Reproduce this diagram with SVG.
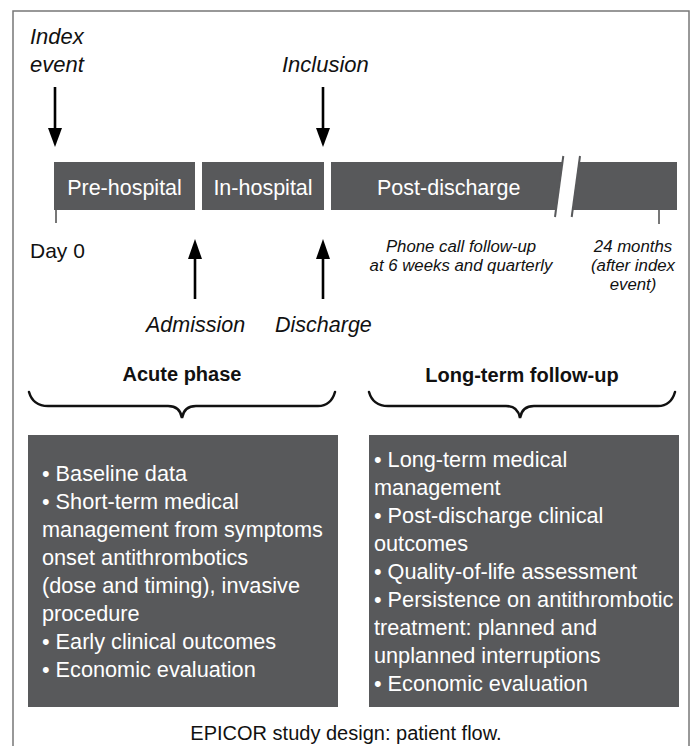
<svg xmlns="http://www.w3.org/2000/svg" width="694" height="746" viewBox="0 0 694 746">
<style>
text{font-family:"Liberation Sans",Arial,sans-serif;}
.it{font-style:italic;fill:#111;}
.bar{fill:#58595b;}
.bt{fill:#fff;font-size:21.5px;}
.box{fill:#58595b;}
.bx{fill:#fff;font-size:21.7px;}
.hd{font-weight:bold;font-size:20px;fill:#111;text-anchor:middle;}
.ar{stroke:#000;stroke-width:2.6;fill:none;}
.brace{stroke:#111;stroke-width:2.5;fill:none;stroke-linecap:round;}
.tick{stroke:#777;stroke-width:2;}
</style>
<rect x="13" y="11" width="676" height="760" fill="none" stroke="#777" stroke-width="1.5"/>

<g id="timeline">
<g id="pre-hospital"><rect class="bar" x="54" y="162" width="141" height="48"/><text class="bt" x="124.5" y="195" text-anchor="middle">Pre-hospital</text></g>
<g id="in-hospital"><rect class="bar" x="202" y="162" width="122" height="48"/><text class="bt" x="263" y="195" text-anchor="middle">In-hospital</text></g>
<g id="post-discharge"><polygon class="bar" points="331,162 562.5,162 556,210 331,210"/><text class="bt" x="377" y="195">Post-discharge</text></g>
<g id="long-term"><polygon class="bar" points="579.2,162 677,162 677,210 572.7,210"/></g>
<g id="break"><line x1="563.3" y1="156" x2="555" y2="217" stroke="#58595b" stroke-width="2"/><line x1="580" y1="156" x2="571.7" y2="217" stroke="#58595b" stroke-width="2"/></g>
<line class="tick" x1="56" y1="210" x2="56" y2="223"/>
<line class="tick" x1="659" y1="210" x2="659" y2="224"/>
</g>

<g id="connectors">
<path d="M55,87 V128" class="ar"/><polygon points="48,128 62,128 55,147" fill="#000"/>
<path d="M323,87 V128" class="ar"/><polygon points="316,128 330,128 323,147" fill="#000"/>
<path d="M195,299 V258" class="ar"/><polygon points="188,259 202,259 195,239" fill="#000"/>
<path d="M323,299 V258" class="ar"/><polygon points="316,259 330,259 323,239" fill="#000"/>
<path class="brace" d="M29,392 Q33,406 48,406 L168,406 Q180,406 182,418 Q184,406 196,406 L318,406 Q331,406 335,392"/>
<path class="brace" d="M369,392 Q373,406 388,406 L506,406 Q518,406 520,418 Q522,406 534,406 L658,406 Q671,406 675,392"/>
</g>

<g id="labels">
<text class="it" x="30" y="44" font-size="22">Index</text>
<text class="it" x="30" y="72" font-size="22">event</text>
<text class="it" x="282" y="72" font-size="22">Inclusion</text>
<text x="30" y="258" font-size="21" fill="#111">Day 0</text>
<text class="it" x="146" y="332" font-size="21.5">Admission</text>
<text class="it" x="275" y="332" font-size="21.5">Discharge</text>
<text class="it" font-size="16.8" text-anchor="middle"><tspan x="461" y="252">Phone call follow-up</tspan><tspan x="461" y="271">at 6 weeks and quarterly</tspan></text>
<text class="it" font-size="16.8" text-anchor="middle"><tspan x="633" y="252">24 months</tspan><tspan x="633" y="271">(after index</tspan><tspan x="633" y="290">event)</tspan></text>
<text class="hd" x="182" y="381">Acute phase</text>
<text class="hd" x="522" y="382" font-size="19.5">Long-term follow-up</text>
</g>

<g id="acute-box">
<rect class="box" x="28" y="435" width="310" height="272"/>
<text class="bx">
<tspan x="42" y="481">• Baseline data</tspan>
<tspan x="42" y="509">• Short-term medical</tspan>
<tspan x="42" y="537">management from symptoms</tspan>
<tspan x="42" y="565">onset antithrombotics</tspan>
<tspan x="42" y="593">(dose and timing), invasive</tspan>
<tspan x="42" y="621">procedure</tspan>
<tspan x="42" y="649">• Early clinical outcomes</tspan>
<tspan x="42" y="677">• Economic evaluation</tspan>
</text>
</g>

<g id="followup-box">
<rect class="box" x="369" y="435" width="310" height="272"/>
<text class="bx">
<tspan x="374" y="467">• Long-term medical</tspan>
<tspan x="374" y="495">management</tspan>
<tspan x="374" y="523">• Post-discharge clinical</tspan>
<tspan x="374" y="551">outcomes</tspan>
<tspan x="374" y="579">• Quality-of-life assessment</tspan>
<tspan x="374" y="607">• Persistence on antithrombotic</tspan>
<tspan x="374" y="635">treatment: planned and</tspan>
<tspan x="374" y="663">unplanned interruptions</tspan>
<tspan x="374" y="691">• Economic evaluation</tspan>
</text>
</g>

<text x="346" y="740" font-size="20" fill="#111" text-anchor="middle">EPICOR study design: patient flow.</text>
</svg>
